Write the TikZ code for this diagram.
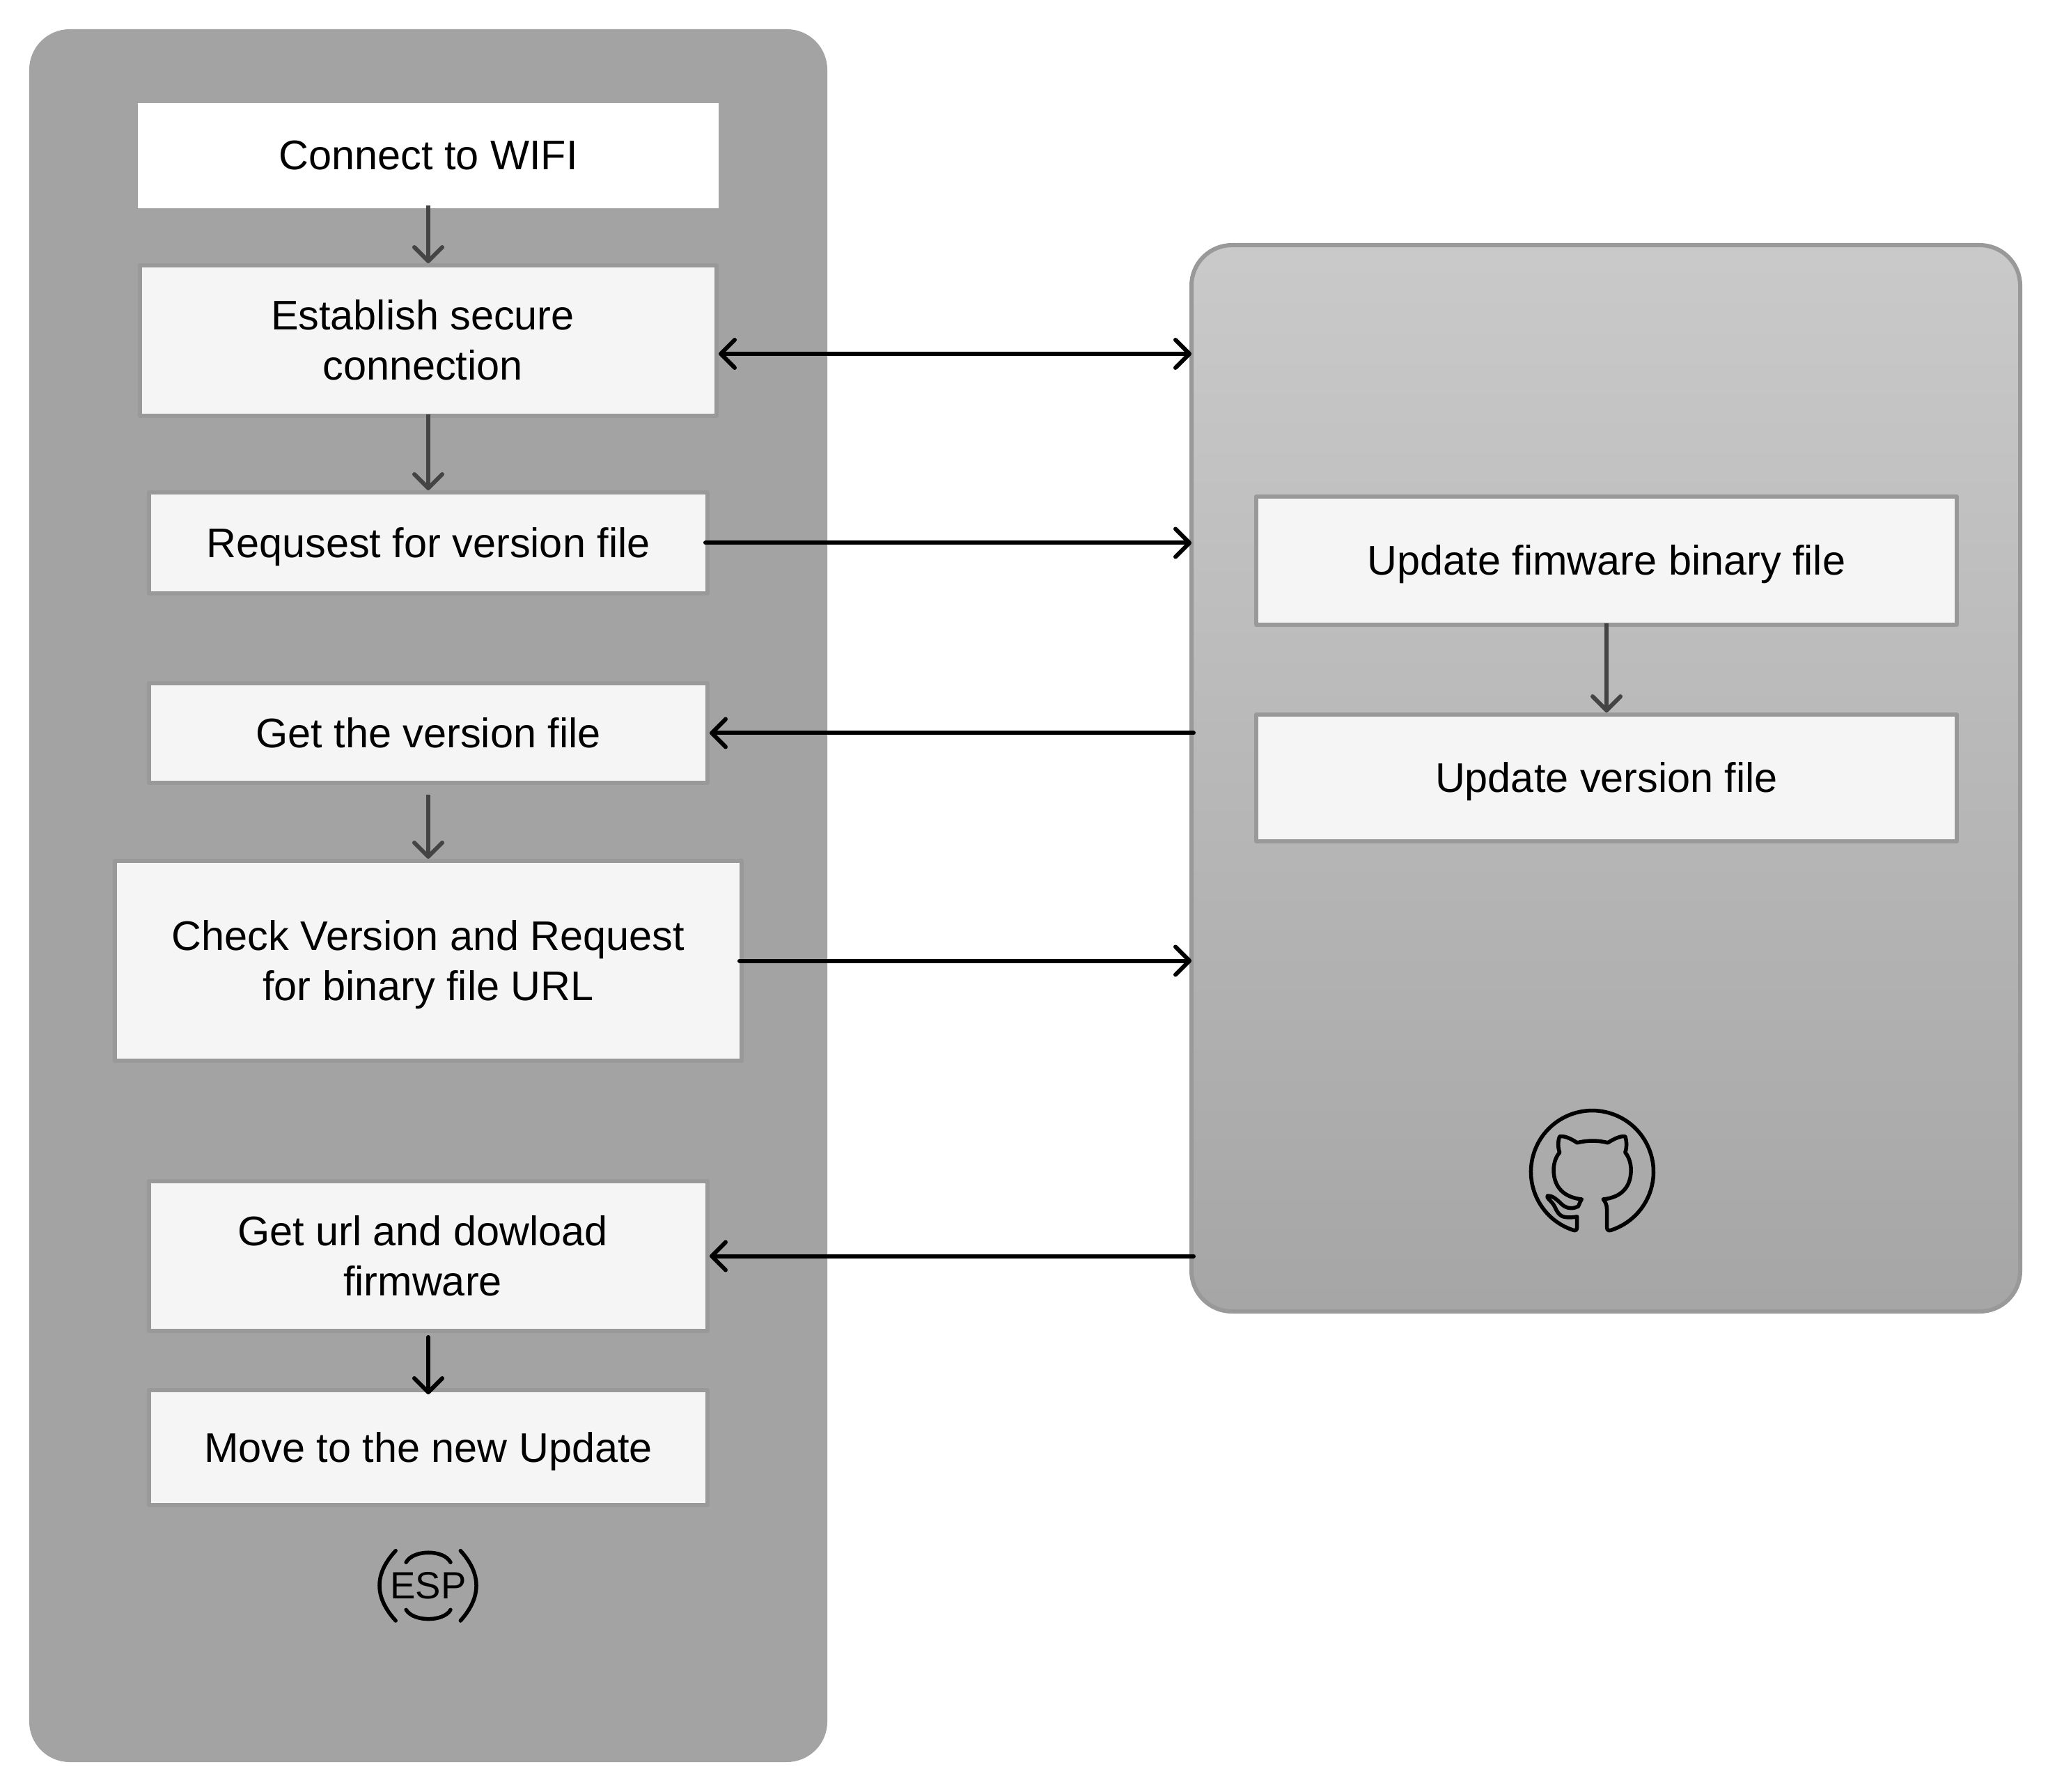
\documentclass[tikz,border=0pt]{standalone}
\usepackage{fontspec}
\setmainfont{Liberation Sans}
\definecolor{espgray}{RGB}{163,163,163}
\definecolor{boxfill}{RGB}{245,245,245}
\definecolor{boxline}{RGB}{153,153,153}
\definecolor{stepline}{RGB}{68,68,68}
\usetikzlibrary{arrows.meta}
\newcommand{\rpad}{\hspace*{0.16cm}}
\tikzset{
    barbtip/.tip={Straight Barb[length=0.2cm,width=0.4cm,round]},
    panelbox/.style={rounded corners=0.58cm, minimum width=11.46cm, minimum height=24.88cm},
    stepbox/.style={draw=boxline, fill=boxfill, line width=0.06cm, line join=round, align=center, inner sep=0pt, text depth=0.02cm},
    flowarrow/.style={line width=0.06cm, line cap=round, -barbtip, shorten <=-0.06cm, shorten >=-0.03cm},
    bothways/.style={line width=0.06cm, barbtip-barbtip, shorten >=-0.03cm},
    backarrow/.style={line width=0.06cm, line cap=round, barbtip-, shorten >=-0.06cm},
    steparrow/.style={draw=stepline, line width=0.06cm, -barbtip, shorten <=-0.05cm},
    logoline/.style={line width=0.055cm, line cap=round, line join=round}
}

\begin{document}
\begin{tikzpicture}[every node/.style={font=\fontsize{16.9}{20.5}\selectfont}]
    \useasboundingbox (0,0) rectangle (29.41,-25.73);

    % Two panels
    \node[panelbox, fill=espgray] (esp) at (6.15,-12.86) {};
    \node[panelbox, draw=boxline, line width=0.06cm, minimum width=11.90cm, minimum height=15.31cm, top color=black!21, bottom color=black!35] (github) at (23.06,-11.175) {};

    % ESP steps
    \node[fill=white, minimum width=8.34cm, minimum height=1.51cm, inner sep=0pt, text depth=0.02cm] (wifi) at (6.15,-2.235) {Connect to WIFI};
    \node[stepbox, minimum width=8.28cm, minimum height=2.16cm] (secure) at (6.15,-4.89) {Establish secure\rpad\\connection\rpad};
    \node[stepbox, minimum width=8.02cm, minimum height=1.45cm] (request) at (6.15,-7.795) {Requsest for version file};
    \node[stepbox, minimum width=8.02cm, minimum height=1.43cm] (getfile) at (6.15,-10.525) {Get the version file};
    \node[stepbox, minimum width=9.00cm, minimum height=2.87cm] (check) at (6.15,-13.795) {Check Version and Request\\for binary file URL};
    \node[stepbox, minimum width=8.02cm, minimum height=2.15cm] (geturl) at (6.15,-18.035) {Get url and dowload\rpad\\firmware\rpad};
    \node[stepbox, minimum width=8.02cm, minimum height=1.65cm] (move) at (6.15,-20.785) {Move to the new Update};

    % Github steps
    \node[stepbox, minimum width=10.06cm, minimum height=1.84cm] (binfile) at (23.07,-8.05) {Update fimware binary file};
    \node[stepbox, minimum width=10.06cm, minimum height=1.82cm] (verfile) at (23.07,-11.17) {Update version file};

    % Arrows inside the panels
    \draw[steparrow] (wifi) -- (secure);
    \draw[steparrow] (secure.south) -- (request.north);
    \draw[steparrow, shorten <=0.14cm] (getfile.south) -- (check.north);
    \draw[flowarrow, shorten <=0.06cm, shorten >=-0.09cm] (geturl.south) -- (move.north);
    \draw[steparrow] (binfile.south) -- (verfile.north);

    % Arrows between the panels
    \draw[bothways] ([yshift=-0.19cm]secure.east) -- ([yshift=-0.19cm]secure.east -| github.west);
    \draw[flowarrow] (request.east) -- (request.east -| github.west);
    \draw[backarrow] (getfile.east) -- (getfile.east -| github.west);
    \draw[flowarrow] (check.east) -- (check.east -| github.west);
    \draw[backarrow] (geturl.east) -- (geturl.east -| github.west);

    % Github logo
    \begin{scope}[shift={(21.00,-15.40)}, x=0.003333cm, y=-0.003333cm]
        \draw[logoline] (495,622) -- (495,668) .. controls (495,680) and (488,684) .. (478,680)
            arc[start angle=251.8, end angle=-72.3, radius=0.88cm]
            .. controls (630,684) and (624,678) .. (624,668) -- (624,590)
            .. controls (624,570) and (616,556) .. (608,547)
            .. controls (680,540) and (728,500) .. (728,420)
            .. controls (728,395) and (720,365) .. (703,345)
            .. controls (710,325) and (710,295) .. (703,276)
            .. controls (690,272) and (660,282) .. (628,303)
            .. controls (585,292) and (540,292) .. (495,303)
            .. controls (465,282) and (435,272) .. (420,276)
            .. controls (412,295) and (412,325) .. (420,345)
            .. controls (402,365) and (394,395) .. (394,420)
            .. controls (394,500) and (445,540) .. (515,547)
            .. controls (508,558) and (504,570) .. (500,578)
            .. controls (470,592) and (445,585) .. (425,565)
            .. controls (405,545) and (385,530) .. (368,532)
            .. controls (362,540) and (378,550) .. (390,565)
            .. controls (405,585) and (405,605) .. (430,620)
            .. controls (450,628) and (480,625) .. (495,622) -- cycle;
    \end{scope}

    % ESP logo
    \node[font=\fontsize{15.5}{18}\selectfont] (esplogo) at (6.15,-22.77) {ESP};
    \begin{scope}[shift={(5.00,-21.80)}, x=0.003333cm, y=-0.003333cm]
        \draw[logoline] (205,140) .. controls (112,240) and (112,340) .. (205,442);
        \draw[logoline] (485,140) .. controls (576,240) and (576,340) .. (485,442);
        \draw[logoline] (250,190) .. controls (282,134) and (412,134) .. (442,190);
        \draw[logoline] (250,395) .. controls (282,448) and (412,448) .. (442,395);
    \end{scope}
\end{tikzpicture}
\end{document}
